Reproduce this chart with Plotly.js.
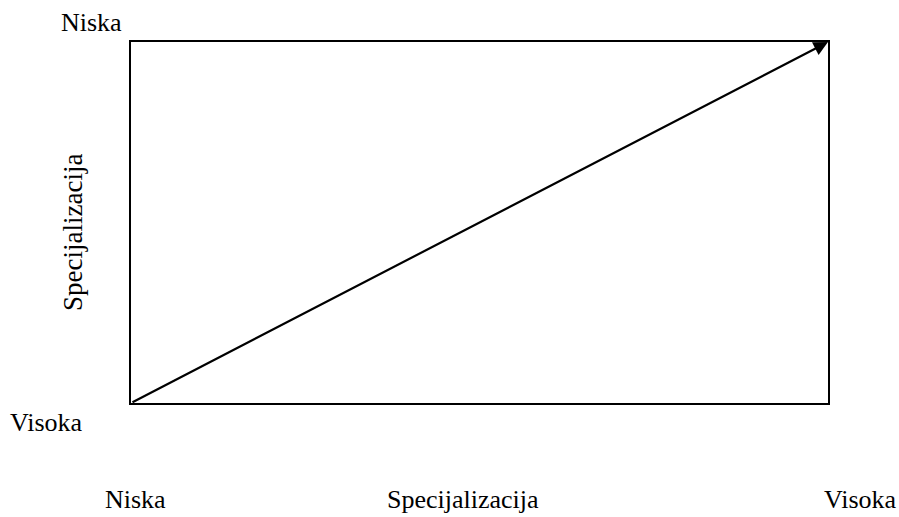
<!DOCTYPE html>
<html>
<head>
<meta charset="utf-8">
<script src="https://cdn.plot.ly/plotly-3.0.1.min.js"></script>
<style>html,body{margin:0;padding:0;background:#fff;}#chart{width:899px;height:517px;}</style>
</head>
<body>
<div id="chart"></div>
<script>
// Data
var axisTitle = "Specijalizacija";
var lowLabel = "Niska";
var highLabel = "Visoka";
var arrowX = [0, 1];
var arrowY = [0, 1];

var W = 899, H = 517;
var L = 131, R = 828, T = 42, B = 403;
function px(x){ return (x - L) / (R - L); }
function py(y){ return (B - y) / (B - T); }

var fam = "Liberation Serif, Times New Roman, serif";
var font = {family: fam, size: 26, color: "#000"};
var fontY = {family: fam, size: 27, color: "#000"};

var data = [{
  x: [arrowX[0]], y: [arrowY[0]], mode: "markers", marker: {size: 1, color: "rgba(0,0,0,0)"},
  hoverinfo: "skip", showlegend: false
}];

var layout = {
  width: W, height: H,
  margin: {l: L, r: W - R, t: T, b: H - B, pad: 0},
  paper_bgcolor: "#fff", plot_bgcolor: "#fff",
  showlegend: false,
  xaxis: {range: [0, 1], showgrid: false, zeroline: false, showticklabels: false, ticks: "",
          showline: true, mirror: true, linecolor: "#000", linewidth: 2, fixedrange: true},
  yaxis: {range: [0, 1], showgrid: false, zeroline: false, showticklabels: false, ticks: "",
          showline: true, mirror: true, linecolor: "#000", linewidth: 2, fixedrange: true},
  annotations: [
    {x: arrowX[1], y: arrowY[1], ax: arrowX[0], ay: arrowY[0], xref: "x", yref: "y", axref: "x", ayref: "y",
     showarrow: true, arrowhead: 2, arrowsize: 1.3, arrowwidth: 2.2, arrowcolor: "#000", text: "", standoff: 0},
    {text: lowLabel, xref: "paper", yref: "paper", x: px(91), y: py(22), showarrow: false, font: font, xanchor: "center", yanchor: "middle"},
    {text: highLabel, xref: "paper", yref: "paper", x: px(46), y: py(422), showarrow: false, font: font, xanchor: "center", yanchor: "middle"},
    {text: axisTitle, xref: "paper", yref: "paper", x: px(73), y: py(233), showarrow: false, font: fontY, textangle: -90, xanchor: "center", yanchor: "middle"},
    {text: lowLabel, xref: "paper", yref: "paper", x: px(135), y: py(499), showarrow: false, font: font, xanchor: "center", yanchor: "middle"},
    {text: axisTitle, xref: "paper", yref: "paper", x: px(463), y: py(499), showarrow: false, font: font, xanchor: "center", yanchor: "middle"},
    {text: highLabel, xref: "paper", yref: "paper", x: px(860), y: py(499), showarrow: false, font: font, xanchor: "center", yanchor: "middle"}
  ]
};

Plotly.newPlot("chart", data, layout, {displayModeBar: false, staticPlot: true});
</script>
</body>
</html>
